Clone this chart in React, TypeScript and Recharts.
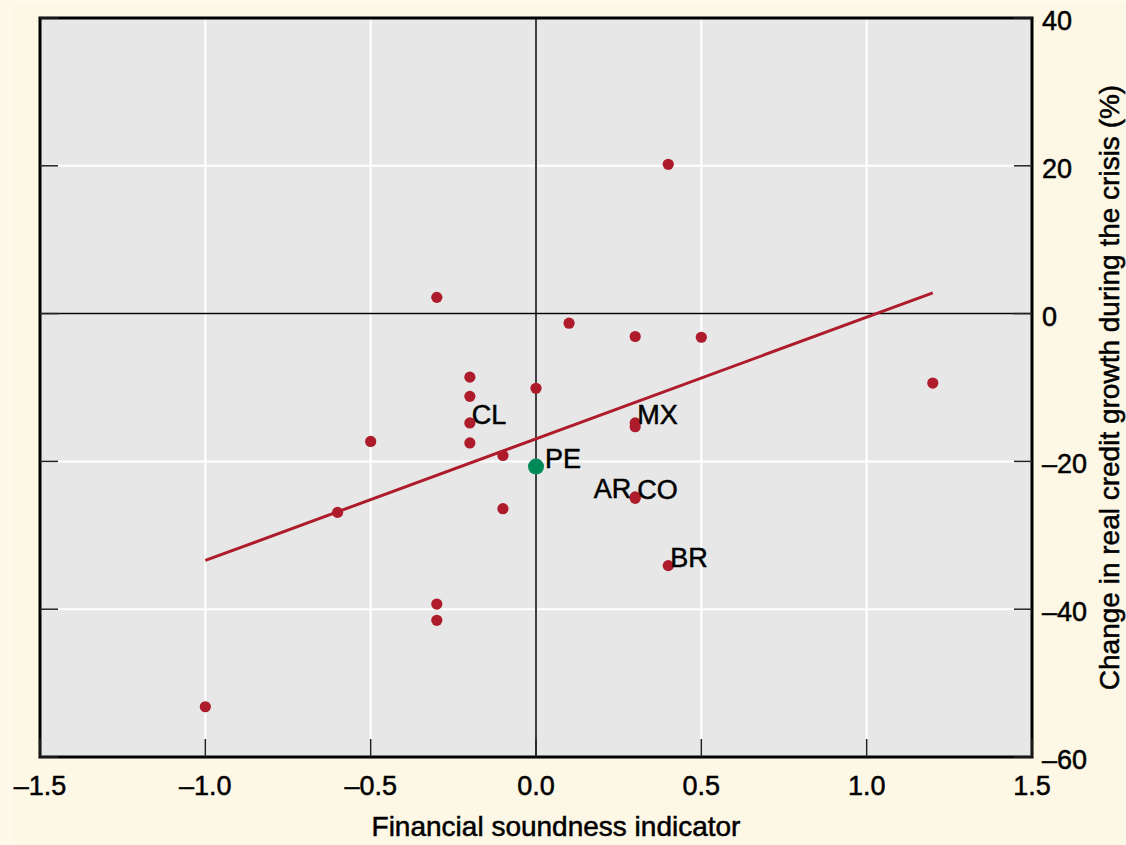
import { ScatterChart, Scatter, XAxis, YAxis, CartesianGrid, ReferenceLine, ReferenceArea, Label } from 'recharts'

const xTicks = [-1.5, -1.0, -0.5, 0, 0.5, 1.0, 1.5]
const yTicks = [-60, -40, -20, 0, 20, 40]

// financial soundness indicator (x) against change in real credit growth, %
const fsi = [-1.0, -0.6, -0.5, -0.3, -0.3, -0.3, -0.2, -0.2, -0.2, -0.2, -0.1, -0.1, 0.0, 0.1, 0.3, 0.3, 0.3, 0.3, 0.3, 0.4, 0.4, 0.5, 1.2]
const growth = [-53.2, -26.9, -17.3, 2.2, -39.3, -41.5, -8.6, -11.2, -14.8, -17.5, -19.2, -26.4, -10.1, -1.3, -3.1, -14.8, -15.3, -24.8, -25.0, 20.2, -34.1, -3.2, -9.4]
const codes = ['', '', '', '', '', '', '', '', 'CL', '', '', '', '', '', '', 'MX', '', 'AR', 'CO', '', 'BR', '', '']

// Peru highlighted
const peru = [{ x: 0.0, y: -20.7, code: 'PE' }]

// fitted line end points
const trendX = [-1.0, 1.2]
const trendY = [-33.4, 2.8]

const RED = '#AE1C2C'
const GREEN = '#008A5A'
const FONT = '"Liberation Sans", Arial, Helvetica, sans-serif'
const TICK_LEN = 18

// slightly heavier than regular weight
const textStyle = { fontFamily: FONT, fill: '#000', stroke: '#000', strokeWidth: 0.5 }

const countries = fsi.map((x, i) => ({ x, y: growth[i], code: codes[i] }))
const trend = trendX.map((x, i) => ({ x, y: trendY[i] }))

const dash = (v: number, digits: number) => {
  const s = Math.abs(v).toFixed(digits)
  return v < 0 ? '\u2013' + s : s
}

const BottomTick = (props: any) => {
  const { x, y, payload } = props
  return (
    <g>
      <line x1={x} y1={y} x2={x} y2={y - TICK_LEN} stroke="#222" strokeWidth={1.5} />
      <text x={x} y={y + 38} textAnchor="middle" fontSize={27} {...textStyle}>
        {dash(payload.value, 1)}
      </text>
    </g>
  )
}

const RightTick = (props: any) => {
  const { x, y, payload } = props
  return (
    <g>
      <line x1={x} y1={y} x2={x - TICK_LEN} y2={y} stroke="#222" strokeWidth={1.5} />
      <text x={x + 10} y={y + 12} textAnchor="start" fontSize={27} {...textStyle}>
        {dash(payload.value, 0)}
      </text>
    </g>
  )
}

const LeftTick = (props: any) => {
  const { x, y } = props
  return <line x1={x} y1={y} x2={x + TICK_LEN} y2={y} stroke="#222" strokeWidth={1.5} />
}

const Dot = (props: any) => {
  const { cx, cy, payload } = props
  const code = payload?.code
  const isEnd = code === 'AR'
  return (
    <g>
      <circle cx={cx} cy={cy} r={5.6} fill={RED} />
      {code ? (
        <text
          x={isEnd ? cx - 4 : cx + 2}
          y={cy + 1}
          textAnchor={isEnd ? 'end' : 'start'}
          fontSize={27}
          {...textStyle}
        >
          {code}
        </text>
      ) : null}
    </g>
  )
}

const PeruDot = (props: any) => {
  const { cx, cy, payload } = props
  return (
    <g>
      <circle cx={cx} cy={cy} r={8} fill={GREEN} />
      <text x={cx + 9} y={cy + 1} fontSize={27} {...textStyle}>
        {payload.code}
      </text>
    </g>
  )
}

export default function App() {
  return (
    <div style={{ position: 'absolute', left: 0, top: 0, width: 1126, height: 845, background: '#FFF9EB' }}>
      <div style={{ position: 'absolute', left: 13, top: 4, right: 0, bottom: 0, background: '#FDF7E5' }} />
      <div style={{ position: 'absolute', left: 0, top: 0 }}>
        <ScatterChart width={1126} height={845} margin={{ top: 18, right: 0, bottom: 0, left: 0 }}>
          <CartesianGrid yAxisId="right" fill="#E7E7E7" stroke="#FFFFFF" strokeWidth={2} />
          <XAxis
            type="number"
            dataKey="x"
            domain={[-1.5, 1.5]}
            ticks={xTicks}
            interval={0}
            height={88}
            axisLine={false}
            tickLine={false}
            tickSize={0}
            tickMargin={0}
            tick={<BottomTick />}
            allowDataOverflow
          >
            <Label
              content={(p: any) => {
                const vb = p.viewBox
                return (
                  <text x={vb.x + vb.width / 2 + 20} y={vb.y + 79} textAnchor="middle" fontSize={28} {...textStyle}>
                    Financial soundness indicator
                  </text>
                )
              }}
            />
          </XAxis>
          <YAxis
            yAxisId="left"
            orientation="left"
            type="number"
            domain={[-60, 40]}
            ticks={yTicks}
            interval={0}
            width={40}
            axisLine={false}
            tickLine={false}
            tickSize={0}
            tickMargin={0}
            tick={<LeftTick />}
            allowDataOverflow
          />
          <YAxis
            yAxisId="right"
            orientation="right"
            type="number"
            dataKey="y"
            domain={[-60, 40]}
            ticks={yTicks}
            interval={0}
            width={94}
            axisLine={false}
            tickLine={false}
            tickSize={0}
            tickMargin={0}
            tick={<RightTick />}
            allowDataOverflow
          >
            <Label
              content={(p: any) => {
                const vb = p.viewBox
                const cx = vb.x + vb.width - 7
                const cy = vb.y + vb.height / 2
                return (
                  <text
                    x={cx}
                    y={cy}
                    transform={`rotate(-90, ${cx}, ${cy})`}
                    textAnchor="middle"
                    fontSize={28}
                    {...textStyle}
                  >
                    Change in real credit growth during the crisis (%)
                  </text>
                )
              }}
            />
          </YAxis>
          <ReferenceLine yAxisId="right" x={0} stroke="#000" strokeWidth={1.5} />
          <ReferenceLine yAxisId="right" y={0} stroke="#000" strokeWidth={1.5} />
          <ReferenceArea yAxisId="right" x1={-1.5} x2={1.5} y1={-60} y2={40} fill="none" stroke="#000" strokeWidth={3} />
          <Scatter
            yAxisId="right"
            data={trend}
            line={{ stroke: RED, strokeWidth: 3 }}
            lineType="joint"
            shape={() => <g />}
            isAnimationActive={false}
          />
          <Scatter yAxisId="right" data={countries} shape={<Dot />} isAnimationActive={false} />
          <Scatter yAxisId="right" data={peru} shape={<PeruDot />} isAnimationActive={false} />
        </ScatterChart>
      </div>
    </div>
  )
}
